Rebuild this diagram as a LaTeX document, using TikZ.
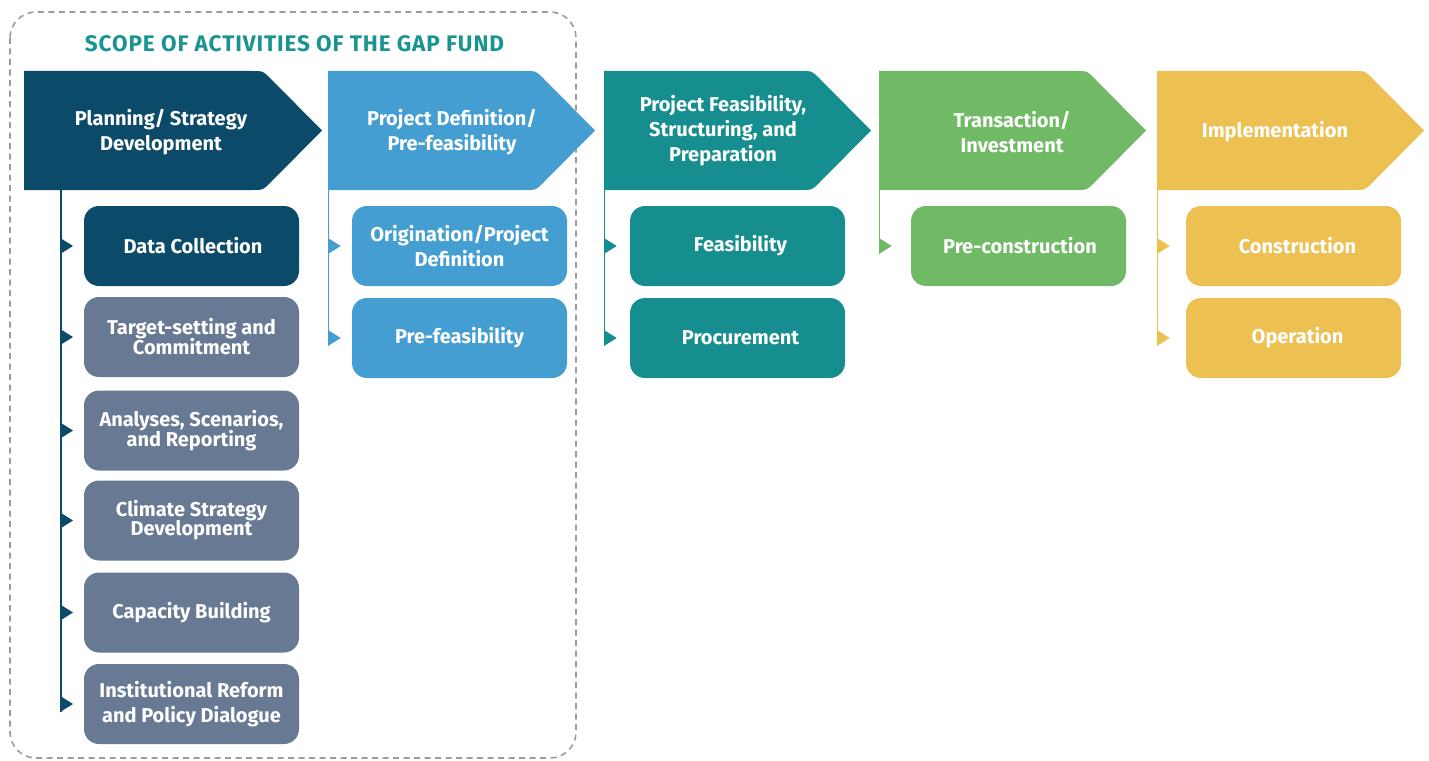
\documentclass[tikz,border=0pt]{standalone}
\usepackage{fontspec}
\setmainfont{Fira Sans}
\usetikzlibrary{calc}

\definecolor{cnavy}{HTML}{0B4A68}
\definecolor{cslate}{HTML}{687A93}
\definecolor{csky}{HTML}{459ED2}
\definecolor{cteal}{HTML}{168D8F}
\definecolor{cgreen}{HTML}{70BA65}
\definecolor{cyellow}{HTML}{ECC151}
\definecolor{ctitle}{HTML}{1A9490}
\definecolor{cdash}{HTML}{9C9C9C}

% chevron header: left edge, tip x, colour
\newcommand{\chevron}[3]{%
  \fill[#3] (#1,190) -- (#1,71) -- ({#2-69},71) .. controls ({#2-59},71) .. ({#2-52},78)
    -- (#2,130.5) -- ({#2-52},183) .. controls ({#2-59},190) .. ({#2-69},190) -- cycle;}
% small marker on a stage line, at the height of a given node
\newcommand{\marker}[3]{%
  \fill[#1] (#2 |- #3.west) ++(0,-7.5) -- ++(12,7.5) -- ++(-12,7.5) -- cycle;}

\begin{document}
\begin{tikzpicture}[x=1pt,y=-1pt,
  hdr/.style={text=white, align=center, inner sep=0pt,
    font=\bfseries\fontsize{20}{25}\selectfont},
  sub/.style={rounded corners=15pt, minimum width=215pt, minimum height=80pt,
    inner sep=0pt, text=white, align=center,
    font=\bfseries\fontsize{20}{25}\selectfont},
  stage/.style={line width=1.4pt},
  titlestyle/.style={text=ctitle, inner sep=0pt,
    font=\bfseries\fontsize{22.5}{26}\selectfont\addfontfeatures{LetterSpace=4}}]

\useasboundingbox (0,0) rectangle (1429,760);

% scope frame
\draw[cdash, line width=1.6pt, dash pattern=on 6pt off 4.5pt, rounded corners=26pt]
  (10,12) rectangle (576,758);
\node[titlestyle] (title) at (294.5,44) {SCOPE OF ACTIVITIES OF THE GAP FUND};

% stage headers
\chevron{24}{322}{cnavy}
\chevron{328}{595}{csky}
\chevron{604}{871}{cteal}
\chevron{879}{1146}{cgreen}
\chevron{1157}{1424}{cyellow}

\node[hdr] (h1) at (161,132.5) {Planning/ Strategy\\Development};
\node[hdr] (h2) at (452,132.5) {Project Definition/\\Pre-feasibility};
\node[hdr] (h3) at (723,131) {Project Feasibility,\\Structuring, and\\Preparation};
\node[hdr] (h4) at (1012,132.5) {Transaction/\\Investment};
\node[hdr] (h5) at (1275,132) {Implementation};

% activities
\node[sub, fill=cnavy]  (b11) at (191.5,246)   {\hspace*{3pt}Data Collection};
\node[sub, fill=cslate] (b12) at (191.5,337)   {Target-setting and\\[-5pt]Commitment};
\node[sub, fill=cslate] (b13) at (191.5,430.5) {Analyses, Scenarios,\\[-5pt]and Reporting};
\node[sub, fill=cslate] (b14) at (191.5,520.5) {Climate Strategy\\[-6pt]Development};
\node[sub, fill=cslate] (b15) at (191.5,612.5) {Capacity Building};
\node[sub, fill=cslate] (b16) at (191.5,704)   {Institutional Reform\\and Policy Dialogue};

\node[sub, fill=csky] (b21) at (459.5,246) {Origination/Project\\Definition};
\node[sub, fill=csky] (b22) at (459.5,338) {Pre-feasibility};

\node[sub, fill=cteal] (b31) at (737.5,246) {\hspace*{6pt}Feasibility};
\node[sub, fill=cteal] (b32) at (737.5,338) {\hspace*{6pt}Procurement};

\node[sub, fill=cgreen] (b41) at (1018.5,246) {\hspace*{3pt}Pre-construction};

\node[sub, fill=cyellow] (b51) at (1293.5,246) {\hspace*{8pt}Construction};
\node[sub, fill=cyellow] (b52) at (1293.5,338) {\hspace*{8pt}\raisebox{3pt}{Operation}};

% stage lines
\coordinate (l1) at (61,190);    \coordinate (l1e) at (61,712);
\coordinate (l2) at (328.7,190); \coordinate (l2e) at (328.7,345.5);
\coordinate (l3) at (604.7,190); \coordinate (l3e) at (604.7,345.5);
\coordinate (l4) at (879.7,190); \coordinate (l4e) at (879.7,253.5);
\coordinate (l5) at (1157.7,190);\coordinate (l5e) at (1157.7,345.5);

\draw[stage, cnavy] (l1) -- (l1e);
\draw[stage, csky] (l2) -- (l2e);
\draw[stage, cteal] (l3) -- (l3e);
\draw[stage, cgreen] (l4) -- (l4e);
\draw[stage, cyellow] (l5) -- (l5e);

\foreach \b in {b11,b12,b13,b14,b15,b16} {\marker{cnavy}{l1}{\b}}
\foreach \b in {b21,b22} {\marker{csky}{l2}{\b}}
\foreach \b in {b31,b32} {\marker{cteal}{l3}{\b}}
\marker{cgreen}{l4}{b41}
\foreach \b in {b51,b52} {\marker{cyellow}{l5}{\b}}

\end{tikzpicture}
\end{document}
